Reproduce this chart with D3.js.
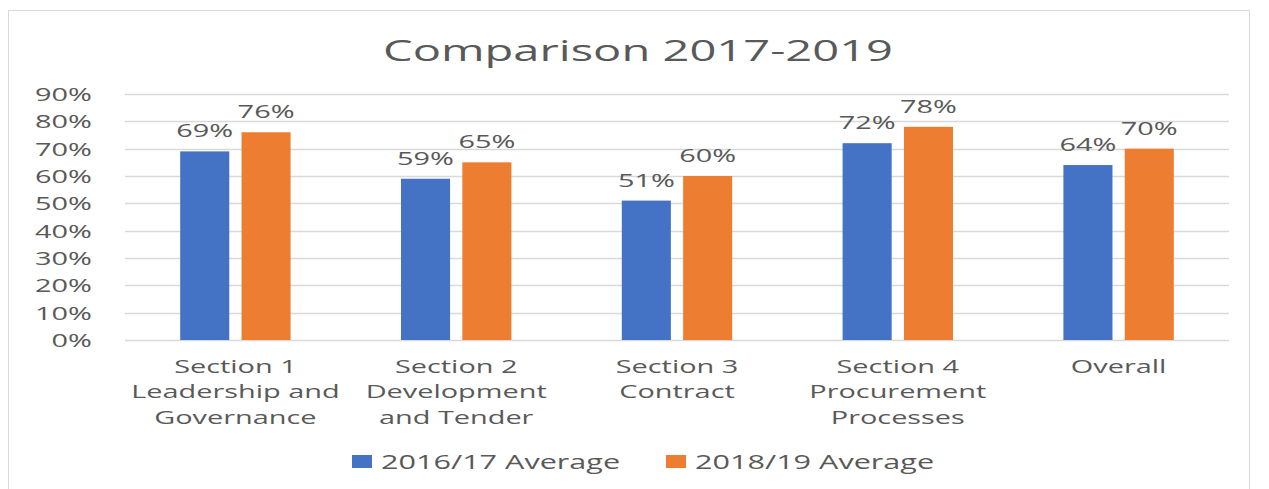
<!DOCTYPE html>
<html><head><meta charset="utf-8">
<script src="https://cdn.jsdelivr.net/npm/d3@7"></script>
<style>body{margin:0;background:#fff}svg{display:block}text{font-family:"Open Sans",sans-serif;fill:#595959}</style>
</head><body><svg id="c" width="1269" height="489"></svg>
<script>
const categories = ["Section 1 Leadership and Governance","Section 2 Development and Tender","Section 3 Contract","Section 4 Procurement Processes","Overall"];
const categoryLines = [["Section 1","Leadership and","Governance"],["Section 2","Development","and Tender"],["Section 3","Contract"],["Section 4","Procurement","Processes"],["Overall"]];
const seriesNames = ["2016/17 Average","2018/19 Average"];
const values2016 = [0.69,0.59,0.51,0.72,0.64];
const values2018 = [0.76,0.65,0.60,0.78,0.70];
const yTicks = [0,0.1,0.2,0.3,0.4,0.5,0.6,0.7,0.8,0.9];
const colors = ["#4472C4","#ED7D31"];
const title = "Comparison 2017-2019";

const svg = d3.select("#c");
const pct = d3.format(".0%");
function stext(g, x, y, str, size, anchor, sx){
  const t = g.append("g").attr("transform",`translate(${x},${y}) scale(${sx||1.52},1)`);
  return t.append("text").attr("font-size",size).attr("text-anchor",anchor||"middle").text(str);
}
// chart border
svg.append("rect").attr("x",8.5).attr("y",10.5).attr("width",1241).attr("height",490)
  .attr("fill","none").attr("stroke","#d9d9d9");

const x = d3.scaleBand().domain(categories).range([125,1229]).padding(0);
const xs = d3.scaleBand().domain(seriesNames).range([-x.bandwidth()*0.25, x.bandwidth()*0.25]).paddingInner(0.2);
const y = d3.scaleLinear().domain([0,0.9]).range([340,94]);

// gridlines
svg.append("g").selectAll("line").data(yTicks).join("line")
  .attr("x1",125).attr("x2",1229).attr("y1",d=>Math.round(y(d))+0.5).attr("y2",d=>Math.round(y(d))+0.5)
  .attr("stroke","#d9d9d9").attr("stroke-width",1.5);
// y labels
const yl = svg.append("g");
yTicks.forEach(t=>stext(yl,92,y(t)+7,pct(t),19,"end"));

const series = [values2016, values2018];
series.forEach((vals,si)=>{
  const g = svg.append("g");
  g.selectAll("rect").data(vals).join("rect")
    .attr("x",(d,i)=>x(categories[i])+x.bandwidth()/2+xs(seriesNames[si]))
    .attr("width",xs.bandwidth())
    .attr("y",d=>y(d)).attr("height",d=>y(0)-y(d))
    .attr("fill",colors[si]);
  vals.forEach((d,i)=>{
    stext(g, x(categories[i])+x.bandwidth()/2+xs(seriesNames[si])+xs.bandwidth()/2, y(d)-14, pct(d), 19, "middle");
  });
});

// category labels
const cl = svg.append("g");
categoryLines.forEach((lines,i)=>{
  lines.forEach((l,j)=>stext(cl, x(categories[i])+x.bandwidth()/2, 373+j*25.3, l, 19, "middle"));
});

// title
stext(svg, 638, 61, title, 30, "middle", 1.57);

// legend
const lg = svg.append("g");
const legX = [352,666];
seriesNames.forEach((s,i)=>{
  lg.append("rect").attr("x",legX[i]).attr("y",455).attr("width",20).attr("height",13).attr("fill",colors[i]);
  stext(lg, legX[i]+29, 469, s, 20, "start", 1.53);
});
</script></body></html>
